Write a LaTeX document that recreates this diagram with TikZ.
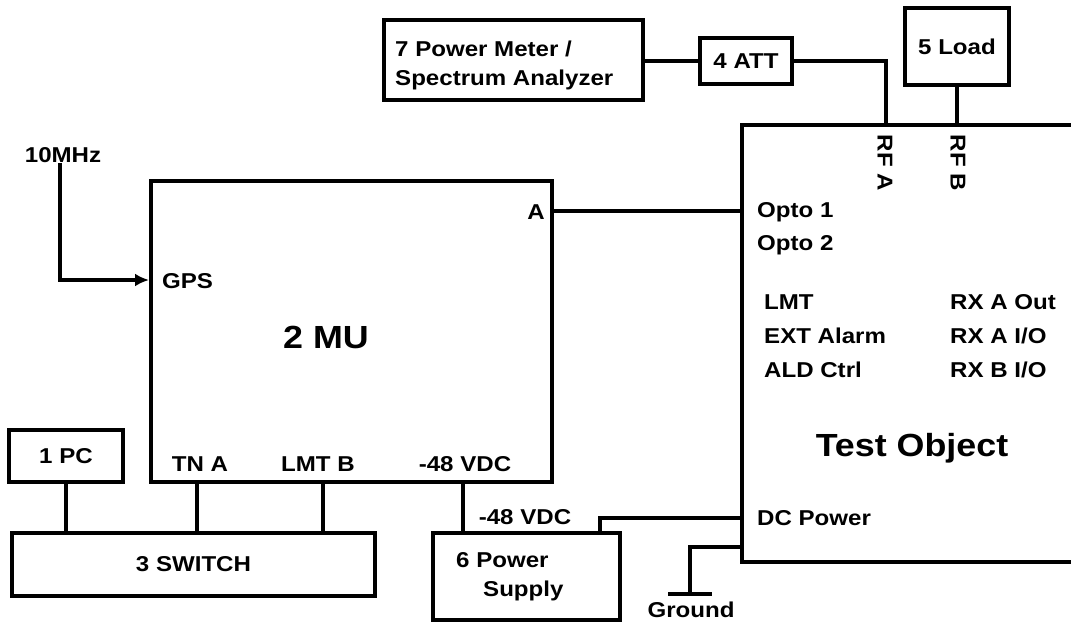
\documentclass[tikz,border=0pt]{standalone}
\usepackage{fontspec}
\setmainfont{Liberation Sans}[FakeStretch=1.12]
\usetikzlibrary{arrows.meta}
\begin{document}
\begin{tikzpicture}[x=1pt,y=-1pt,line join=miter,
  box/.style={draw,line width=4.5pt,inner sep=0pt},
  wire/.style={line width=3.5pt},
  lbl/.style={inner sep=0pt,font=\fontsize{21.5}{29}\selectfont\bfseries},
  big/.style={inner sep=0pt,font=\fontsize{32}{38}\selectfont\bfseries}]
\useasboundingbox[fill=white] (0,0) rectangle (1071,623);
% boxes
\node[box,minimum width=259pt,minimum height=80pt] (pm) at (513.5,60) {};
\node[lbl,anchor=west,align=left] (pmt) at (395,65.5) {7 Power Meter /\\Spectrum Analyzer};
\node[box,lbl,minimum width=92pt,minimum height=46pt] (att) at (746,61) {4 ATT};
\node[box,lbl,minimum width=104pt,minimum height=77pt] (load) at (957,46.5) {5 Load};
\node[box,minimum width=336pt,minimum height=437pt] (to) at (910,343.5) {};
\node[draw,line width=3.5pt,minimum width=401pt,minimum height=301pt,inner sep=0pt] (mu) at (351.5,331.5) {};
\node[box,lbl,minimum width=114pt,minimum height=52pt] (pc) at (66,456) {1 PC};
\node[box,lbl,minimum width=363pt,minimum height=63pt] (sw) at (193.5,564.5) {3 SWITCH};
\node[box,minimum width=187pt,minimum height=87pt] (ps) at (526.5,576.5) {};
\node[lbl,anchor=west,align=left] (pst) at (456,577) {6 Power\\\hspace{27pt}Supply};
% labels
\node[lbl,rotate=-90] (rfa) at (885,163) {RF A};
\node[lbl,rotate=-90] (rfb) at (958,163) {RF B};
\node[lbl,anchor=west] (o1) at (757,212) {Opto 1};
\node[lbl,anchor=west] (o2) at (757,245) {Opto 2};
\node[lbl,anchor=west] (lmt) at (764,302) {LMT};
\node[lbl,anchor=west] (ext) at (764,336) {EXT Alarm};
\node[lbl,anchor=west] (ald) at (764,370) {ALD Ctrl};
\node[lbl,anchor=west] (rx1) at (950,302) {RX A Out};
\node[lbl,anchor=west] (rx2) at (950,336) {RX A I/O};
\node[lbl,anchor=west] (rx3) at (950,370) {RX B I/O};
\node[big] (tot) at (912,448) {Test Object};
\node[lbl,anchor=west] (dcp) at (757,518) {DC Power};
\node[lbl,anchor=east] (pa) at (545,212) {A};
\node[lbl,anchor=west] (gps) at (162,281) {GPS};
\node[big] (mut) at (326,337) {2 MU};
\node[lbl] (tna) at (200,464) {TN A};
\node[lbl] (lmtb) at (318,464) {LMT B};
\node[lbl] (vdc1) at (465,464) {-48 VDC};
\node[lbl] (vdc2) at (525,517) {-48 VDC};
\node[lbl] (mhz) at (63,155) {10MHz};
\node[lbl] (gndt) at (691,610) {Ground};
% coordinates
\coordinate (rfain) at (886,125);
\coordinate (mua) at (552,211);
\coordinate (gpsin) at (149,280);
\coordinate (tnap) at (197,482);
\coordinate (lmtbp) at (323,482);
\coordinate (vdcp) at (463,482);
\coordinate (psout) at (600,533);
\coordinate (dcin) at (742,518);
\coordinate (gin) at (742,547);
\coordinate (gnd) at (690,594);
% wires
\draw[wire] (pm.east |- att.west) -- (att.west);
\draw[wire] (att.east) -| (rfain);
\draw[wire] (load.south) -- (load.south |- to.north);
\draw[wire] (mua) -- (mua -| to.west);
\draw[wire,-{Latex[length=14pt,width=13pt]}] ([xshift=-3pt]mhz.south) |- (gpsin);
\draw[wire] (pc.south) -- (pc.south |- sw.north);
\draw[wire] (tnap) -- (tnap |- sw.north);
\draw[wire] (lmtbp) -- (lmtbp |- sw.north);
\draw[wire] (vdcp) -- (vdcp |- ps.north);
\draw[wire] (psout) |- (dcin);
\draw[wire] (gin) -| (gnd);
\draw[wire] ([xshift=-22pt]gnd) -- ([xshift=22pt]gnd);
\end{tikzpicture}
\end{document}
